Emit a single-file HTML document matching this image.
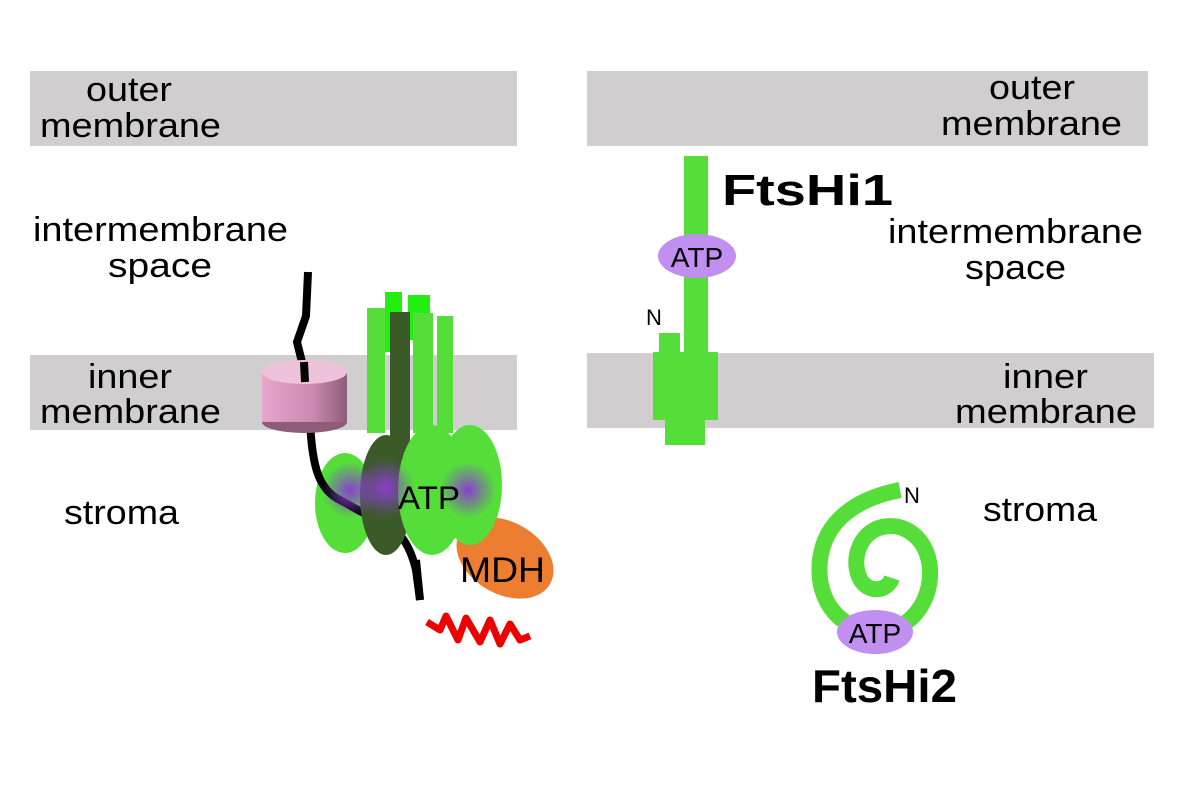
<!DOCTYPE html>
<html><head><meta charset="utf-8"><style>body{margin:0;background:#fff}svg{display:block}text{font-family:"Liberation Sans",Arial,sans-serif}</style></head><body>
<svg width="1181" height="789" viewBox="0 0 1181 789" xmlns="http://www.w3.org/2000/svg">
<defs>
<radialGradient id="pg" cx="0.5" cy="0.5" r="0.5"><stop offset="0" stop-color="#8a3fd0"/><stop offset="0.6" stop-color="#8a3fd0" stop-opacity="0.4"/><stop offset="1" stop-color="#8a3fd0" stop-opacity="0"/></radialGradient>
<linearGradient id="cyl" x1="0" x2="1"><stop offset="0" stop-color="#e7a7cc"/><stop offset="0.6" stop-color="#c98aae"/><stop offset="1" stop-color="#8e5c78"/></linearGradient>
</defs>
<rect x="30" y="71" width="487" height="75" fill="#d0cece"/>
<rect x="30" y="355" width="487" height="75" fill="#d0cece"/>
<rect x="587" y="71" width="561" height="75" fill="#d0cece"/>
<rect x="587" y="353" width="567" height="75" fill="#d0cece"/>
<g font-size="34" fill="#000">
<text x="86" y="101" textLength="86" lengthAdjust="spacingAndGlyphs">outer</text><text x="40" y="137" textLength="181" lengthAdjust="spacingAndGlyphs">membrane</text>
<text x="33" y="241" textLength="255" lengthAdjust="spacingAndGlyphs">intermembrane</text><text x="108" y="277" textLength="104" lengthAdjust="spacingAndGlyphs">space</text>
<text x="88" y="388" textLength="84" lengthAdjust="spacingAndGlyphs">inner</text><text x="40" y="423" textLength="181" lengthAdjust="spacingAndGlyphs">membrane</text>
<text x="64" y="524" textLength="115" lengthAdjust="spacingAndGlyphs">stroma</text>
<text x="989" y="99" textLength="86" lengthAdjust="spacingAndGlyphs">outer</text><text x="941" y="135" textLength="181" lengthAdjust="spacingAndGlyphs">membrane</text>
<text x="888" y="243" textLength="255" lengthAdjust="spacingAndGlyphs">intermembrane</text><text x="965" y="279" textLength="101" lengthAdjust="spacingAndGlyphs">space</text>
<text x="1003" y="388" textLength="85" lengthAdjust="spacingAndGlyphs">inner</text><text x="955" y="423" textLength="182" lengthAdjust="spacingAndGlyphs">membrane</text>
<text x="983" y="521" textLength="114" lengthAdjust="spacingAndGlyphs">stroma</text>
</g>
<!-- left complex -->
<path d="M308,272 L306,316 L297,342 L304,370" stroke="#000" stroke-width="8" fill="none"/>
<rect x="367" y="308" width="18" height="125" fill="#55dd3a"/>
<rect x="385" y="292" width="17" height="60" fill="#22ee11"/>
<rect x="408" y="295" width="22" height="45" fill="#22ee11"/>
<rect x="413" y="313" width="20" height="120" fill="#55dd3a"/>
<rect x="437" y="316" width="16" height="117" fill="#55dd3a"/>
<ellipse cx="345" cy="503" rx="30" ry="50" fill="#55dd3a"/>
<ellipse cx="505" cy="558" rx="52" ry="36" transform="rotate(30 505 558)" fill="#ed7d31"/>
<path d="M310,420 C312,470 320,490 340,500 C355,508 365,515 380,520 C400,530 410,545 416,570 L420,600" stroke="#000" stroke-width="8" fill="none"/>
<ellipse cx="386" cy="495" rx="26" ry="60" fill="#3b5a28"/>
<rect x="390" y="312" width="20" height="140" fill="#3b5a28"/>
<ellipse cx="470" cy="485" rx="32" ry="60" fill="#55dd3a"/>
<ellipse cx="432" cy="490" rx="34" ry="65" fill="#55dd3a"/>
<circle cx="350" cy="490" r="28" fill="url(#pg)"/>
<circle cx="385" cy="488" r="30" fill="url(#pg)"/>
<circle cx="468" cy="490" r="28" fill="url(#pg)"/>
<path d="M416,560 L420,600" stroke="#000" stroke-width="8"/>
<ellipse cx="304.5" cy="422" rx="42.5" ry="11" fill="#8e5c78"/>
<rect x="262" y="372" width="85" height="50" fill="url(#cyl)"/>
<ellipse cx="304.5" cy="372" rx="42.5" ry="12" fill="#efc2dc"/>
<path d="M304,362 L305,382" stroke="#000" stroke-width="8"/>
<path d="M427,622 L440,630 L446,616 L458,640 L466,618 L480,642 L490,620 L500,644 L510,624 L520,640 L530,636" stroke="#ee0000" stroke-width="7" fill="none" stroke-linejoin="round"/>
<text x="398" y="509" font-size="32" textLength="62" lengthAdjust="spacingAndGlyphs">ATP</text>
<text x="460" y="582" font-size="35" textLength="85" lengthAdjust="spacingAndGlyphs">MDH</text>
<!-- FtsHi1 -->
<rect x="684" y="156" width="24" height="200" fill="#55dd3a"/>
<rect x="659" y="333" width="21" height="22" fill="#55dd3a"/>
<rect x="653" y="352" width="65" height="68" fill="#55dd3a"/>
<rect x="665" y="418" width="40" height="27" fill="#55dd3a"/>
<ellipse cx="697" cy="256" rx="39" ry="22" fill="#c18ff0"/>
<text x="697" y="267" font-size="28" text-anchor="middle">ATP</text>
<text x="646" y="325" font-size="22">N</text>
<text x="722" y="205" font-size="44" font-weight="bold" textLength="171" lengthAdjust="spacingAndGlyphs">FtsHi1</text>
<!-- FtsHi2 -->
<path d="M900,490 C860,498 825,518 820,560 C815,605 845,632 878,632 C912,630 932,600 930,568 C927,538 905,522 882,527 C857,533 850,565 862,582 C872,594 888,590 892,578" stroke="#55dd3a" stroke-width="16" fill="none"/>
<ellipse cx="875" cy="632" rx="38" ry="22" fill="#c18ff0"/>
<text x="875" y="643" font-size="28" text-anchor="middle">ATP</text>
<text x="904" y="503" font-size="22">N</text>
<text x="812" y="702" font-size="46" font-weight="bold" textLength="145" lengthAdjust="spacingAndGlyphs">FtsHi2</text>
</svg>
</body></html>
